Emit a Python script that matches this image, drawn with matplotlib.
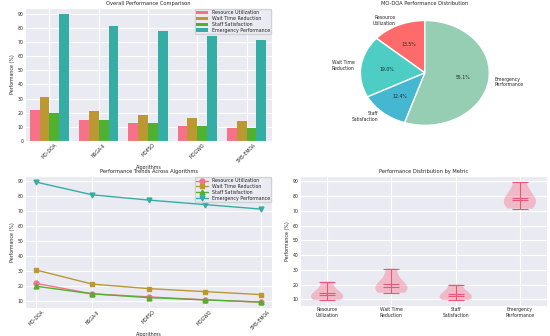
import numpy as np
import matplotlib
matplotlib.use("Agg")
import matplotlib.pyplot as plt
import seaborn as sns

algorithms = ["MO-DOA", "NSGA-II", "MOPSO", "MOGWO", "SMS-EMOA"]
metrics = ["Resource Utilization", "Wait Time Reduction", "Staff Satisfaction", "Emergency Performance"]
metric_labels = ["Resource\nUtilization", "Wait Time\nReduction", "Staff\nSatisfaction", "Emergency\nPerformance"]
resource = [22.0, 15.0, 13.0, 11.0, 9.5]
wait_time = [30.9, 21.5, 18.5, 16.5, 14.5]
staff = [20.1, 15.0, 12.5, 11.0, 9.5]
emergency = [89.5, 81.0, 77.5, 74.5, 71.5]
pie_colors = ["#FF6B6B", "#4ECDC4", "#45B7D1", "#96CEB4"]

sns.set_style("darkgrid")
sns.set_palette("husl")
pal = sns.color_palette("husl")
plt.rcParams['font.family'] = ['DejaVu Sans']

FS_T = 3.7
FS_L = 3.4
FS_K = 3.3

fig = plt.figure(figsize=(5.5, 3.36), dpi=100)
ax1 = fig.add_axes([0.045, 0.580, 0.450, 0.396])
ax2 = fig.add_axes([0.626, 0.588, 0.293, 0.390])
ax3 = fig.add_axes([0.045, 0.083, 0.450, 0.393])
ax4 = fig.add_axes([0.545, 0.089, 0.450, 0.387])

series = [resource, wait_time, staff, emergency]
x = np.arange(len(algorithms))
w = 0.2
for i, (vals, name) in enumerate(zip(series, metrics)):
    ax1.bar(x + (i - 1.5) * w, vals, w, label=name, color=pal[i], linewidth=0, edgecolor="none")
ax1.set_xticks(x)
ax1.set_xticklabels(algorithms, rotation=45)
ax1.set_xlim(-0.5, 4.52)
ax1.set_yticks(range(0, 100, 10))
ax1.set_title("Overall Performance Comparison", fontsize=FS_T, pad=2)
ax1.set_xlabel("Algorithms", fontsize=FS_L, labelpad=1)
ax1.set_ylabel("Performance (%)", fontsize=FS_L, labelpad=2)
ax1.legend(fontsize=FS_L, loc="upper right", borderpad=0.3, handlelength=2.5, labelspacing=0.15, borderaxespad=0.2)

pie_vals = [s[0] for s in series]
ax2.pie(pie_vals, labels=metric_labels, colors=pie_colors, autopct="%1.1f%%",
        startangle=90, textprops={"fontsize": FS_K})
ax2.set_aspect("auto")
ax2.set_title("MO-DOA Performance Distribution", fontsize=FS_T, pad=2)

markers = ["o", "s", "^", "v"]
for i, (vals, name) in enumerate(zip(series, metrics)):
    ax3.plot(algorithms, vals, marker=markers[i], label=name, color=pal[i], linewidth=1.0, markersize=3.5)
ax3.set_xticks(range(len(algorithms)))
ax3.set_xticklabels(algorithms, rotation=45)
ax3.set_yticks(range(10, 100, 10))
ax3.set_title("Performance Trends Across Algorithms", fontsize=FS_T, pad=2)
ax3.set_xlabel("Algorithms", fontsize=FS_L, labelpad=1)
ax3.set_ylabel("Performance (%)", fontsize=FS_L, labelpad=2)
ax3.legend(fontsize=FS_L, loc="upper right", borderpad=0.3, handlelength=2.5, labelspacing=0.15, borderaxespad=0.2)

parts = ax4.violinplot(series, showmeans=True, showmedians=True)
for b in parts["bodies"]:
    b.set_facecolor("#f77189")
    b.set_edgecolor("none")
    b.set_alpha(0.4)
for key in ["cmeans", "cmedians", "cmins", "cmaxes", "cbars"]:
    parts[key].set_color("#e8577a")
    parts[key].set_linewidth(0.8)
ax4.set_xticks(range(1, 5))
ax4.set_xticklabels(metric_labels)
ax4.set_yticks(range(10, 100, 10))
ax4.set_title("Performance Distribution by Metric", fontsize=FS_T, pad=2)
ax4.set_ylabel("Performance (%)", fontsize=FS_L, labelpad=2)

for ax in [ax1, ax3, ax4]:
    ax.tick_params(labelsize=FS_K, pad=1, length=0)

fig.savefig("out.png", dpi=100)
